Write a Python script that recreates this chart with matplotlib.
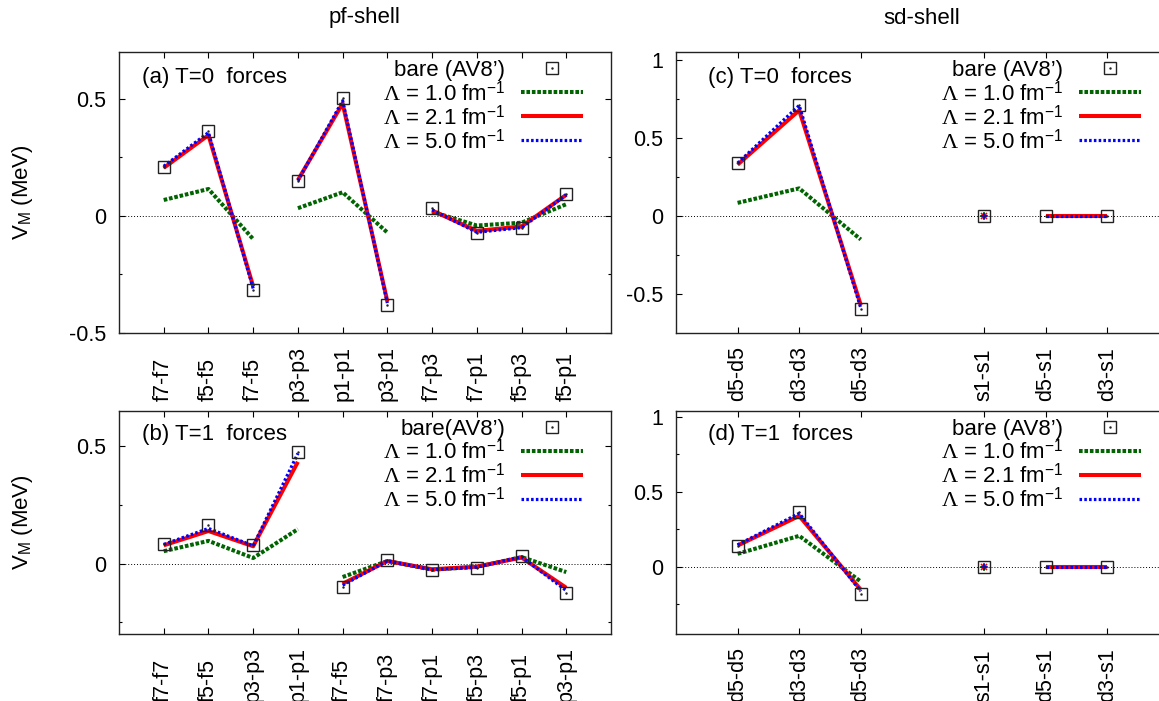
import numpy as np
import matplotlib
matplotlib.use('Agg')
import matplotlib.pyplot as plt
from matplotlib.lines import Line2D
from matplotlib.legend_handler import HandlerTuple

plt.rcParams['font.family'] = ['Liberation Sans', 'DejaVu Sans']
plt.rcParams['font.size'] = 16
plt.rcParams['mathtext.fontset'] = 'custom'
plt.rcParams['mathtext.rm'] = 'Liberation Serif'
plt.rcParams['mathtext.sf'] = 'Liberation Sans'
plt.rcParams['mathtext.it'] = 'Liberation Serif:italic'
plt.rcParams['axes.unicode_minus'] = False

# pf-shell, T=0
pf_t0_labels = ['f7-f7', 'f5-f5', 'f7-f5', 'p3-p3', 'p1-p1', 'p3-p1', 'f7-p3', 'f7-p1', 'f5-p3', 'f5-p1']
pf_t0_groups = [(0, 3), (3, 6), (6, 10)]
pf_t0_bare = [0.210, 0.364, -0.318, 0.150, 0.503, -0.379, 0.035, -0.074, -0.052, 0.094]
pf_t0_l10 = [0.068, 0.115, -0.099, 0.033, 0.101, -0.071, 0.018, -0.041, -0.029, 0.050]
pf_t0_l21 = [0.205, 0.345, -0.301, 0.153, 0.480, -0.365, 0.023, -0.064, -0.045, 0.090]
pf_t0_l50 = [0.212, 0.356, -0.310, 0.150, 0.492, -0.372, 0.026, -0.070, -0.050, 0.090]

# pf-shell, T=1
pf_t1_labels = ['f7-f7', 'f5-f5', 'p3-p3', 'p1-p1', 'f7-f5', 'f7-p3', 'f7-p1', 'f5-p3', 'f5-p1', 'p3-p1']
pf_t1_groups = [(0, 4), (4, 10)]
pf_t1_bare = [0.085, 0.164, 0.078, 0.477, -0.100, 0.017, -0.029, -0.017, 0.031, -0.124]
pf_t1_l10 = [0.053, 0.097, 0.024, 0.147, -0.057, 0.011, -0.026, -0.014, 0.028, -0.036]
pf_t1_l21 = [0.078, 0.139, 0.074, 0.434, -0.086, 0.011, -0.024, -0.013, 0.026, -0.103]
pf_t1_l50 = [0.082, 0.150, 0.076, 0.470, -0.092, 0.012, -0.026, -0.015, 0.029, -0.115]

# sd-shell (positions 1,2,3 then 5,6,7)
sd_labels = ['d5-d5', 'd3-d3', 'd5-d3', 's1-s1', 'd5-s1', 'd3-s1']
sd_pos = [1, 2, 3, 5, 6, 7]
sd_groups = [(0, 3), (3, 4), (4, 6)]
sd_t0_bare = [0.338, 0.716, -0.598, 0.0, 0.0, 0.0]
sd_t0_l10 = [0.085, 0.178, -0.150, 0.0, 0.0, 0.0]
sd_t0_l21 = [0.330, 0.679, -0.571, 0.0, 0.0, 0.0]
sd_t0_l50 = [0.340, 0.710, -0.590, 0.0, 0.0, 0.0]

sd_t1_bare = [0.140, 0.367, -0.184, 0.0, 0.0, 0.0]
sd_t1_l10 = [0.085, 0.205, -0.100, 0.0, 0.0, 0.0]
sd_t1_l21 = [0.140, 0.338, -0.155, 0.0, 0.0, 0.0]
sd_t1_l50 = [0.145, 0.355, -0.165, 0.0, 0.0, 0.0]

green_kw = dict(color='#006400', lw=2.9, ls=(0, (0.9, 0.45)), solid_capstyle='butt', dash_capstyle='butt')
red_kw = dict(color='#ff0000', lw=2.9, solid_capstyle='butt')
blue_kw = dict(color='#0000ff', lw=2.3, ls=(0, (0.8, 0.7)), dash_capstyle='butt')
lam_labels = [r'$\mathrm{\Lambda}$ = 1.0 fm$^{\mathsf{-1}}$',
              r'$\mathrm{\Lambda}$ = 2.1 fm$^{\mathsf{-1}}$',
              r'$\mathrm{\Lambda}$ = 5.0 fm$^{\mathsf{-1}}$']


def panel(ax, xpos, labels, groups, bare, l10, l21, l50, xmax, ylim, ymajor, yminor, tag, tag_x, tag_dy, bare_label):
    xpos = np.array(xpos)
    ax.axhline(0, color='black', lw=0.7, ls=(0, (1, 2)), zorder=1)
    for a, b in groups:
        x = xpos[a:b]
        if b - a == 1:
            ax.plot(x, l10[a:b], ls='none', marker='+', ms=6, mew=1.2, color='#006400', zorder=3)
            ax.plot(x, l21[a:b], ls='none', marker='x', ms=5, mew=1.2, color='#ff0000', zorder=3)
            ax.plot(x, l50[a:b], ls='none', marker='+', ms=5, mew=1.2, color='#0000ff', zorder=3)
            continue
        ax.plot(x, l10[a:b], zorder=2, **green_kw)
        ax.plot(x, l21[a:b], zorder=3, **red_kw)
        ax.plot(x, l50[a:b], zorder=4, **blue_kw)
    ax.plot(xpos, bare, ls='none', marker='s', ms=8, mfc='none', mec='#222222', mew=1.0, zorder=5)
    ax.plot(xpos, bare, ls='none', marker='.', ms=1.5, color='#222222', zorder=5)

    ax.set_xlim(0, xmax)
    ax.set_ylim(*ylim)
    ax.set_xticks(xpos)
    ax.set_xticklabels(labels, rotation=90, va='bottom', ha='center')
    ax.set_yticks(ymajor)
    ax.set_yticklabels(['%g' % v for v in ymajor])
    ax.set_yticks(yminor, minor=True)
    ax.tick_params(axis='both', which='both', direction='in', top=True, right=True, colors='black')
    ax.tick_params(axis='both', which='major', length=4.3, width=0.8)
    ax.tick_params(axis='y', which='minor', length=2.3, width=0.8)
    ax.tick_params(axis='x', which='major', pad=49, labelsize=15.5)
    ax.tick_params(axis='y', which='major', pad=9, labelsize=15.5)
    for s in ax.spines.values():
        s.set_linewidth(1.0)
        s.set_color('#222222')

    h_px = ax.bbox.height
    w_px = ax.bbox.width
    ax.text(tag_x, 1 - tag_dy / h_px, tag, transform=ax.transAxes, va='center', ha='left')

    sq = Line2D([], [], ls='none', marker='s', ms=8, mfc='none', mec='#222222', mew=1.0)
    dot = Line2D([], [], ls='none', marker='.', ms=1.5, color='#222222')
    handles = [(sq, dot), Line2D([], [], **green_kw), Line2D([], [], **red_kw), Line2D([], [], **blue_kw)]
    ax.legend(handles, [bare_label] + lam_labels, loc='upper right',
              bbox_to_anchor=(1 - 28.0 / w_px, 1 - 8.0 / h_px), borderaxespad=0, borderpad=0,
              frameon=False, markerfirst=False, handlelength=2.8, handletextpad=0.7,
              labelspacing=-0.02, handler_map={tuple: HandlerTuple(ndivide=1)})


fig = plt.figure(figsize=(11.59, 7.01), dpi=100)
W, H = 1159.0, 701.0
ax_a = fig.add_axes([119 / W, 1 - 333 / H, 492 / W, 281 / H])
ax_b = fig.add_axes([119 / W, 1 - 634 / H, 492 / W, 223.3 / H])
ax_c = fig.add_axes([676 / W, 1 - 333 / H, 492.8 / W, 281 / H])
ax_d = fig.add_axes([676 / W, 1 - 634 / H, 492.8 / W, 223.3 / H])

x_pf = np.arange(1, 11)
panel(ax_a, x_pf, pf_t0_labels, pf_t0_groups, pf_t0_bare, pf_t0_l10, pf_t0_l21, pf_t0_l50,
      11, (-0.5, 0.7), [-0.5, 0, 0.5], [-0.25, 0.25], '(a) T=0  forces', 0.047, 25, 'bare (AV8’)')
panel(ax_b, x_pf, pf_t1_labels, pf_t1_groups, pf_t1_bare, pf_t1_l10, pf_t1_l21, pf_t1_l50,
      11, (-0.3, 0.652), [0, 0.5], [-0.25, 0.25], '(b) T=1  forces', 0.047, 23.5, 'bare(AV8’)')
panel(ax_c, sd_pos, sd_labels, sd_groups, sd_t0_bare, sd_t0_l10, sd_t0_l21, sd_t0_l50,
      8, (-0.75, 1.053), [-0.5, 0, 0.5, 1], [-0.25, 0.25, 0.75], '(c) T=0  forces', 0.064, 25, 'bare (AV8’)')
panel(ax_d, sd_pos, sd_labels, sd_groups, sd_t1_bare, sd_t1_l10, sd_t1_l21, sd_t1_l50,
      8, (-0.45, 1.04), [0, 0.5, 1], [-0.25, 0.25, 0.75], '(d) T=1  forces', 0.064, 24, 'bare (AV8’)')

for ax in (ax_a, ax_b):
    ax.set_ylabel(r'V$_{\mathsf{M}}$ (MeV)')
    ax.yaxis.set_label_coords(-0.17, 0.5)

fig.text(365 / W, 1 - 18 / H, 'pf-shell', ha='center', va='center')
fig.text(921.7 / W, 1 - 18 / H, 'sd-shell', ha='center', va='center')

fig.savefig('out.png', dpi=100)
